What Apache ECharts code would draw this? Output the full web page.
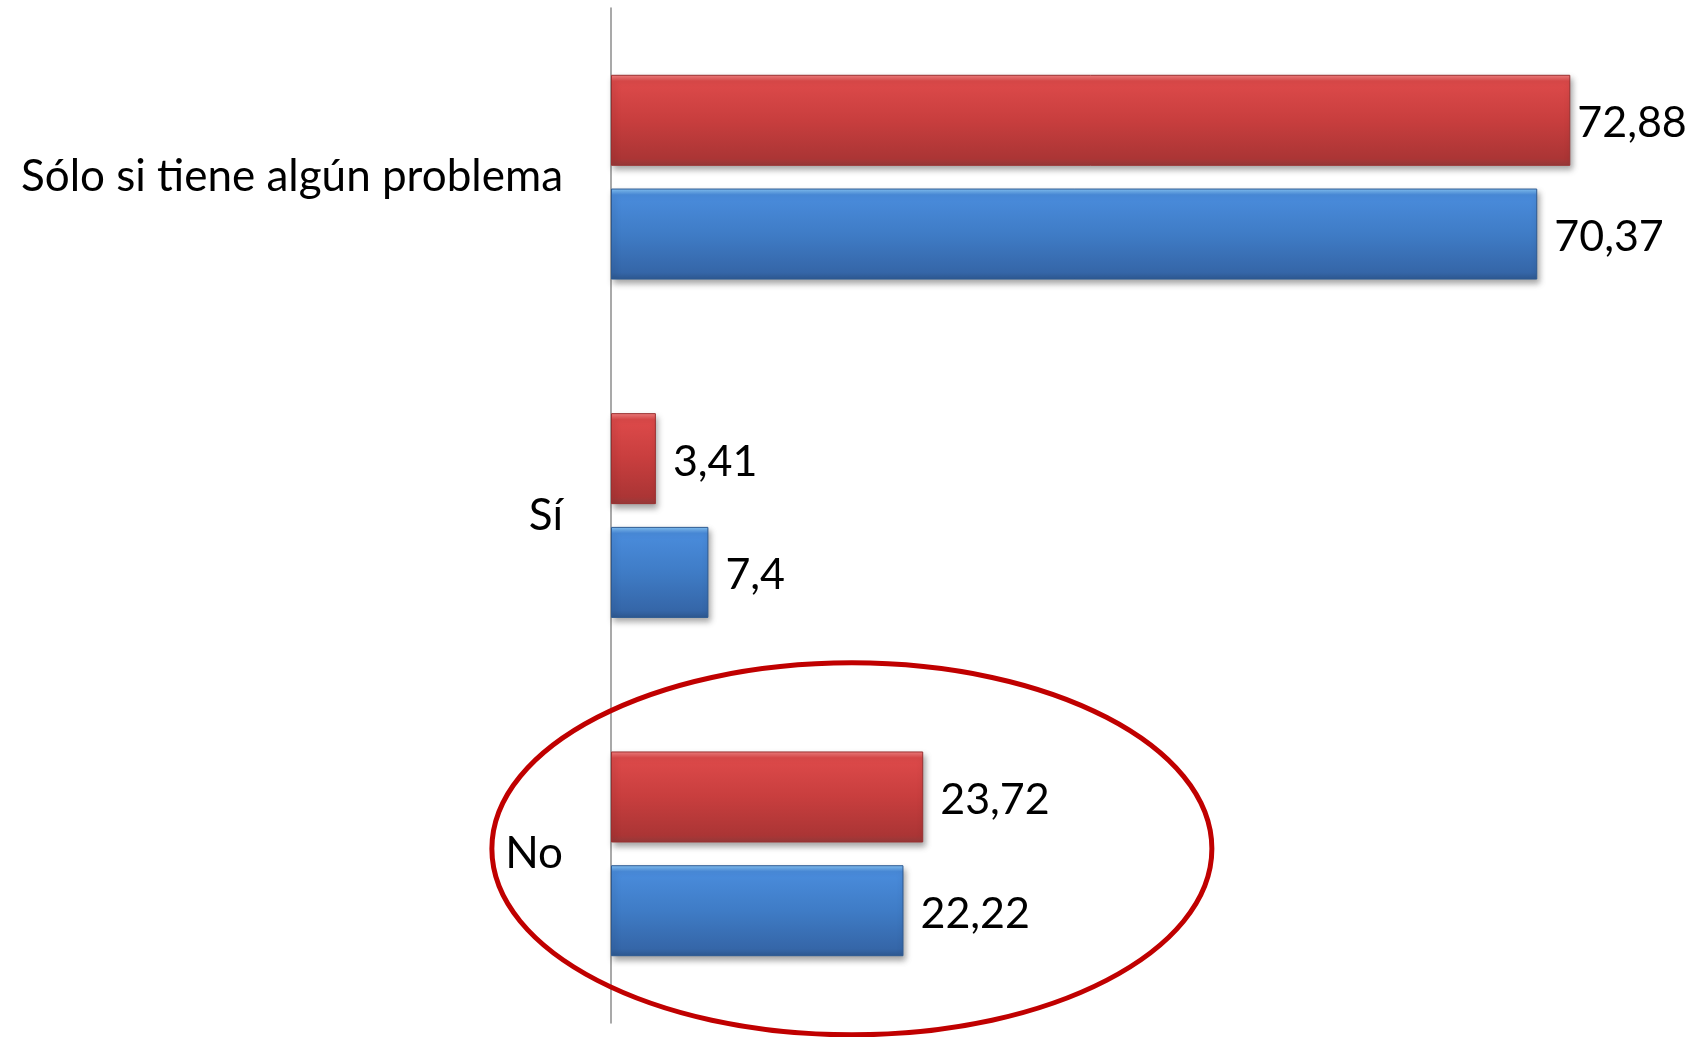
<!DOCTYPE html>
<html>
<head>
<meta charset="utf-8">
<style>
html,body{margin:0;padding:0;background:#fff;}
#chart{width:1703px;height:1037px;}
</style>
<script src="https://cdn.jsdelivr.net/npm/echarts@6/dist/echarts.min.js"></script>
</head>
<body>
<div id="chart"></div>
<script>
const categories = ['Sólo si tiene algún problema', 'Sí', 'No'];
const seriesRed = [72.88, 3.41, 23.72];
const seriesBlue = [70.37, 7.4, 22.22];

const FONT = 'Lato';
const chart = echarts.init(document.getElementById('chart'));

function grad(stops) {
  return new echarts.graphic.LinearGradient(0, 0, 0, 1, stops.map((c, i) => ({offset: c[0], color: c[1]})));
}
const redFill = grad([[0, '#f28080'], [0.07, '#dd4a4a'], [0.5, '#c83e3e'], [0.92, '#ab3535'], [1, '#963a3a']]);
const blueFill = grad([[0, '#86c4f5'], [0.07, '#4a8cdc'], [0.5, '#3f7cc6'], [0.92, '#3566a8'], [1, '#2e5890']]);

function fmt(v) { return String(v).replace('.', ','); }

function mkSeries(name, vals, fill, border) {
  return {
    name: name,
    type: 'bar',
    data: vals.map((v, i) => ({
      value: v,
      label: {distance: (name === 'a' && i === 0) ? 7 : 17}
    })),
    barWidth: 91,
    barGap: '25%',
    itemStyle: {
      color: fill,
      borderColor: border,
      borderWidth: 1,
      shadowColor: 'rgba(0,0,0,0.35)',
      shadowBlur: 6,
      shadowOffsetX: 2,
      shadowOffsetY: 4
    },
    label: {
      show: true,
      position: 'right',
      formatter: p => fmt(p.value),
      fontFamily: FONT,
      fontSize: 43,
      color: '#000',
      offset: [0, 3]
    }
  };
}

chart.setOption({
  animation: false,
  backgroundColor: '#fff',
  grid: {left: 611, top: 8, bottom: 14, right: 39, containLabel: false},
  xAxis: {
    type: 'value', min: 0, max: 80,
    show: false,
    splitLine: {show: false}
  },
  yAxis: {
    type: 'category',
    data: categories,
    inverse: true,
    axisLine: {show: true, lineStyle: {color: '#8c8c8c', width: 1.5}},
    axisTick: {show: false},
    axisLabel: {fontFamily: FONT, fontSize: 44, color: '#000', margin: 48}
  },
  series: [
    mkSeries('a', seriesRed, redFill, '#9a3030'),
    mkSeries('b', seriesBlue, blueFill, '#2d5a92')
  ]
});

// annotation ellipse around the "No" category
const c = chart.convertToPixel({xAxisIndex: 0, yAxisIndex: 0}, [18.3, 'No']);
chart.setOption({
  graphic: [{
    type: 'ellipse',
    shape: {cx: c[0], cy: c[1] - 5, rx: 360, ry: 186},
    style: {fill: 'none', stroke: '#c00000', lineWidth: 5},
    z: 100
  }]
});
</script>
</body>
</html>
